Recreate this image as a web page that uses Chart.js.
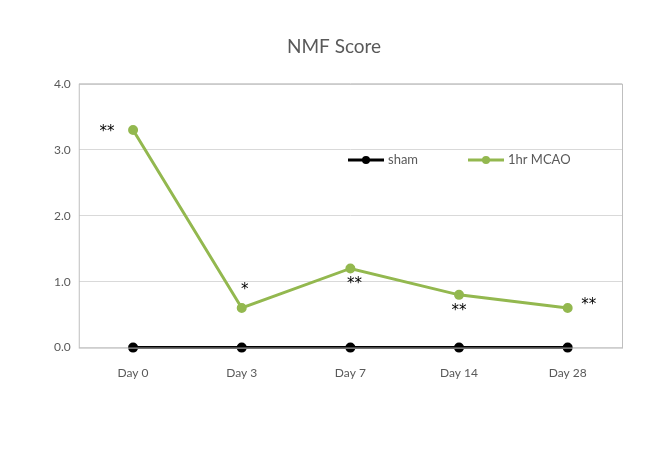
<!DOCTYPE html>
<html>
<head>
<meta charset="utf-8">
<script src="https://cdn.jsdelivr.net/npm/chart.js@4.4.0/dist/chart.umd.min.js"></script>
<style>
  html, body { margin: 0; padding: 0; background: #fff; }
  #wrap { width: 670px; height: 450px; }
</style>
</head>
<body>
<div id="wrap"><canvas id="nmfChart"></canvas></div>
<script>
var days = ['Day 0', 'Day 3', 'Day 7', 'Day 14', 'Day 28'];
var shamScores = [0, 0, 0, 0, 0];
var mcaoScores = [3.3, 0.6, 1.2, 0.8, 0.6];
var marks = ['**', '*', '**', '**', '**'];
var yTicks = [0, 1, 2, 3, 4];

// where each significance mark sits relative to its point
var markOffsets = [[-26, 2], [3, -18], [4, 16], [0, 16], [21, -3]];

var markPlugin = {
    id: 'marks',
    afterDatasetsDraw: function(chart) {
        var ctx = chart.ctx;
        var meta = chart.getDatasetMeta(1);
        ctx.save();
        ctx.fillStyle = '#000';
        ctx.font = '15px "DejaVu Sans"';
        ctx.textAlign = 'center';
        ctx.textBaseline = 'middle';
        meta.data.forEach(function(pt, i) {
            ctx.fillText(marks[i], pt.x + markOffsets[i][0], pt.y + markOffsets[i][1]);
        });
        // legend drawn inside plot
        var items = [['sham', '#000000', 348], ['1hr MCAO', '#93b84f', 468]];
        ctx.font = '13px Lato';
        ctx.textAlign = 'left';
        items.forEach(function(it) {
            var x = it[2], y = 160;
            ctx.strokeStyle = it[1];
            ctx.lineWidth = 3;
            ctx.beginPath(); ctx.moveTo(x, y); ctx.lineTo(x + 36, y); ctx.stroke();
            ctx.fillStyle = it[1];
            ctx.beginPath(); ctx.arc(x + 18, y, 4, 0, Math.PI * 2); ctx.fill();
            ctx.fillStyle = '#595959';
            ctx.fillText(it[0], x + 40, y);
        });
        // plot border
        var a = chart.chartArea;
        ctx.strokeStyle = '#bfbfbf';
        ctx.lineWidth = 1;
        ctx.strokeRect(a.left + 0.5, a.top + 0.5, a.right - a.left, a.bottom - a.top);
        ctx.restore();
    }
};

new Chart(document.getElementById('nmfChart'), {
    type: 'line',
    data: {
        labels: days,
        datasets: [{
            label: 'sham',
            data: shamScores,
            borderColor: '#000000',
            backgroundColor: '#000000',
            borderWidth: 3,
            pointRadius: 3.5,
            clip: false
        }, {
            label: '1hr MCAO',
            data: mcaoScores,
            borderColor: '#93b84f',
            backgroundColor: '#93b84f',
            borderWidth: 3,
            pointRadius: 3.5
        }]
    },
    options: {
        responsive: true,
        maintainAspectRatio: false,
        animation: false,
        layout: { padding: { left: 46, right: 48, top: 25, bottom: 60 } },
        plugins: {
            legend: { display: false },
            tooltip: { enabled: false },
            title: {
                display: true,
                text: 'NMF Score',
                color: '#595959',
                font: { family: 'Lato', size: 19, weight: 'normal' },
                padding: { top: 10, bottom: 26 }
            }
        },
        scales: {
            x: {
                offset: true,
                grid: { display: false },
                border: { display: false },
                ticks: { color: '#595959', font: { family: 'Lato', size: 12 }, padding: 10 }
            },
            y: {
                min: 0,
                max: 4,
                afterBuildTicks: function(axis) {
                    axis.ticks = yTicks.map(function(v) { return { value: v }; });
                },
                grid: { color: '#d9d9d9', drawTicks: false },
                border: { display: false },
                ticks: {
                    color: '#595959',
                    font: { family: 'Lato', size: 12 },
                    padding: 8,
                    callback: function(v) { return v.toFixed(1); }
                }
            }
        }
    },
    plugins: [markPlugin]
});
</script>
</body>
</html>
